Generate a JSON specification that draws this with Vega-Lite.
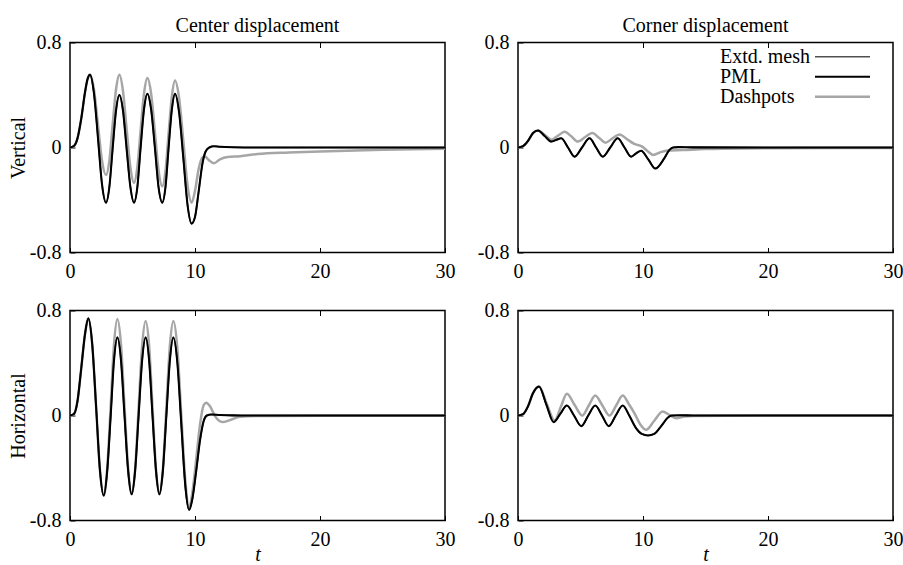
{
  "$schema": "https://vega.github.io/schema/vega-lite/v6.json",
  "autosize": {"type": "none"},
  "padding": {"left": 70, "top": 42.5, "right": 833, "bottom": 522.5},
  "background": "white",
  "bounds": "flush",
  "columns": 2,
  "spacing": {"row": 58, "column": 73},
  "config": {
    "font": "Liberation Serif",
    "view": {"stroke": "black", "strokeWidth": 1.5},
    "axis": {"grid": false, "domain": false, "tickSize": -5, "tickColor": "black", "tickWidth": 1, "labelFlush": false, "labelPadding": 14, "labelFont": "Liberation Serif", "labelFontSize": 20, "labelColor": "black", "titleFont": "Liberation Serif", "titleFontSize": 20, "titleFontWeight": "normal", "titleColor": "black"},
    "title": {"font": "Liberation Serif", "fontSize": 20, "fontWeight": "normal", "color": "black", "offset": -3}
  },
  "resolve": {"scale": {"color": "independent", "strokeWidth": "independent"}},
  "data": {"values": [
    {"p":"cv","s":"Dashpots","t":0,"v":0},{"p":"cv","s":"Dashpots","t":0.3,"v":0.01},{"p":"cv","s":"Dashpots","t":0.6,"v":0.07},{"p":"cv","s":"Dashpots","t":0.9,"v":0.22},{"p":"cv","s":"Dashpots","t":1.2,"v":0.42},{"p":"cv","s":"Dashpots","t":1.4,"v":0.52},{"p":"cv","s":"Dashpots","t":1.6,"v":0.555},{"p":"cv","s":"Dashpots","t":1.92,"v":0.44},{"p":"cv","s":"Dashpots","t":2.24,"v":0.17},{"p":"cv","s":"Dashpots","t":2.56,"v":-0.1},{"p":"cv","s":"Dashpots","t":2.88,"v":-0.21},{"p":"cv","s":"Dashpots","t":3.15,"v":-0.1},{"p":"cv","s":"Dashpots","t":3.41,"v":0.17},{"p":"cv","s":"Dashpots","t":3.68,"v":0.44},{"p":"cv","s":"Dashpots","t":3.95,"v":0.555},{"p":"cv","s":"Dashpots","t":4.24,"v":0.43},{"p":"cv","s":"Dashpots","t":4.53,"v":0.14},{"p":"cv","s":"Dashpots","t":4.83,"v":-0.15},{"p":"cv","s":"Dashpots","t":5.12,"v":-0.27},{"p":"cv","s":"Dashpots","t":5.39,"v":-0.15},{"p":"cv","s":"Dashpots","t":5.65,"v":0.13},{"p":"cv","s":"Dashpots","t":5.92,"v":0.41},{"p":"cv","s":"Dashpots","t":6.19,"v":0.53},{"p":"cv","s":"Dashpots","t":6.49,"v":0.41},{"p":"cv","s":"Dashpots","t":6.79,"v":0.12},{"p":"cv","s":"Dashpots","t":7.08,"v":-0.17},{"p":"cv","s":"Dashpots","t":7.38,"v":-0.295},{"p":"cv","s":"Dashpots","t":7.64,"v":-0.18},{"p":"cv","s":"Dashpots","t":7.89,"v":0.11},{"p":"cv","s":"Dashpots","t":8.15,"v":0.39},{"p":"cv","s":"Dashpots","t":8.4,"v":0.51},{"p":"cv","s":"Dashpots","t":8.73,"v":0.375},{"p":"cv","s":"Dashpots","t":9.07,"v":0.045},{"p":"cv","s":"Dashpots","t":9.4,"v":-0.285},{"p":"cv","s":"Dashpots","t":9.73,"v":-0.42},{"p":"cv","s":"Dashpots","t":10.0,"v":-0.33},{"p":"cv","s":"Dashpots","t":10.3,"v":-0.16},{"p":"cv","s":"Dashpots","t":10.6,"v":-0.075},{"p":"cv","s":"Dashpots","t":10.8,"v":-0.068},{"p":"cv","s":"Dashpots","t":11.1,"v":-0.095},{"p":"cv","s":"Dashpots","t":11.5,"v":-0.12},{"p":"cv","s":"Dashpots","t":12.0,"v":-0.09},{"p":"cv","s":"Dashpots","t":12.6,"v":-0.072},{"p":"cv","s":"Dashpots","t":13.6,"v":-0.066},{"p":"cv","s":"Dashpots","t":15,"v":-0.05},{"p":"cv","s":"Dashpots","t":17.5,"v":-0.038},{"p":"cv","s":"Dashpots","t":20,"v":-0.03},{"p":"cv","s":"Dashpots","t":25,"v":-0.018},{"p":"cv","s":"Dashpots","t":30,"v":-0.01},
    {"p":"cv","s":"Extd. mesh","t":0,"v":0},{"p":"cv","s":"Extd. mesh","t":0.3,"v":0.01},{"p":"cv","s":"Extd. mesh","t":0.6,"v":0.07},{"p":"cv","s":"Extd. mesh","t":0.9,"v":0.22},{"p":"cv","s":"Extd. mesh","t":1.2,"v":0.42},{"p":"cv","s":"Extd. mesh","t":1.4,"v":0.52},{"p":"cv","s":"Extd. mesh","t":1.6,"v":0.555},{"p":"cv","s":"Extd. mesh","t":1.92,"v":0.41},{"p":"cv","s":"Extd. mesh","t":2.24,"v":0.07},{"p":"cv","s":"Extd. mesh","t":2.56,"v":-0.28},{"p":"cv","s":"Extd. mesh","t":2.88,"v":-0.42},{"p":"cv","s":"Extd. mesh","t":3.15,"v":-0.3},{"p":"cv","s":"Extd. mesh","t":3.41,"v":-0.01},{"p":"cv","s":"Extd. mesh","t":3.68,"v":0.28},{"p":"cv","s":"Extd. mesh","t":3.95,"v":0.4},{"p":"cv","s":"Extd. mesh","t":4.24,"v":0.28},{"p":"cv","s":"Extd. mesh","t":4.53,"v":-0.01},{"p":"cv","s":"Extd. mesh","t":4.83,"v":-0.3},{"p":"cv","s":"Extd. mesh","t":5.12,"v":-0.42},{"p":"cv","s":"Extd. mesh","t":5.39,"v":-0.3},{"p":"cv","s":"Extd. mesh","t":5.65,"v":0},{"p":"cv","s":"Extd. mesh","t":5.92,"v":0.29},{"p":"cv","s":"Extd. mesh","t":6.19,"v":0.41},{"p":"cv","s":"Extd. mesh","t":6.49,"v":0.29},{"p":"cv","s":"Extd. mesh","t":6.79,"v":0},{"p":"cv","s":"Extd. mesh","t":7.08,"v":-0.3},{"p":"cv","s":"Extd. mesh","t":7.38,"v":-0.42},{"p":"cv","s":"Extd. mesh","t":7.64,"v":-0.3},{"p":"cv","s":"Extd. mesh","t":7.89,"v":0},{"p":"cv","s":"Extd. mesh","t":8.15,"v":0.29},{"p":"cv","s":"Extd. mesh","t":8.4,"v":0.41},{"p":"cv","s":"Extd. mesh","t":8.73,"v":0.265},{"p":"cv","s":"Extd. mesh","t":9.07,"v":-0.085},{"p":"cv","s":"Extd. mesh","t":9.4,"v":-0.435},{"p":"cv","s":"Extd. mesh","t":9.73,"v":-0.58},{"p":"cv","s":"Extd. mesh","t":10.0,"v":-0.53},{"p":"cv","s":"Extd. mesh","t":10.3,"v":-0.33},{"p":"cv","s":"Extd. mesh","t":10.6,"v":-0.12},{"p":"cv","s":"Extd. mesh","t":10.85,"v":-0.03},{"p":"cv","s":"Extd. mesh","t":11.15,"v":0},{"p":"cv","s":"Extd. mesh","t":11.5,"v":0.01},{"p":"cv","s":"Extd. mesh","t":12.0,"v":0.006},{"p":"cv","s":"Extd. mesh","t":13.0,"v":0.002},{"p":"cv","s":"Extd. mesh","t":15,"v":0},{"p":"cv","s":"Extd. mesh","t":20,"v":0},{"p":"cv","s":"Extd. mesh","t":30,"v":0},
    {"p":"cv","s":"PML","t":0,"v":0},{"p":"cv","s":"PML","t":0.3,"v":0.01},{"p":"cv","s":"PML","t":0.6,"v":0.07},{"p":"cv","s":"PML","t":0.9,"v":0.22},{"p":"cv","s":"PML","t":1.2,"v":0.42},{"p":"cv","s":"PML","t":1.4,"v":0.52},{"p":"cv","s":"PML","t":1.6,"v":0.555},{"p":"cv","s":"PML","t":1.92,"v":0.41},{"p":"cv","s":"PML","t":2.24,"v":0.07},{"p":"cv","s":"PML","t":2.56,"v":-0.28},{"p":"cv","s":"PML","t":2.88,"v":-0.42},{"p":"cv","s":"PML","t":3.15,"v":-0.3},{"p":"cv","s":"PML","t":3.41,"v":-0.01},{"p":"cv","s":"PML","t":3.68,"v":0.28},{"p":"cv","s":"PML","t":3.95,"v":0.4},{"p":"cv","s":"PML","t":4.24,"v":0.28},{"p":"cv","s":"PML","t":4.53,"v":-0.01},{"p":"cv","s":"PML","t":4.83,"v":-0.3},{"p":"cv","s":"PML","t":5.12,"v":-0.42},{"p":"cv","s":"PML","t":5.39,"v":-0.3},{"p":"cv","s":"PML","t":5.65,"v":0},{"p":"cv","s":"PML","t":5.92,"v":0.29},{"p":"cv","s":"PML","t":6.19,"v":0.41},{"p":"cv","s":"PML","t":6.49,"v":0.29},{"p":"cv","s":"PML","t":6.79,"v":0},{"p":"cv","s":"PML","t":7.08,"v":-0.3},{"p":"cv","s":"PML","t":7.38,"v":-0.42},{"p":"cv","s":"PML","t":7.64,"v":-0.3},{"p":"cv","s":"PML","t":7.89,"v":0},{"p":"cv","s":"PML","t":8.15,"v":0.29},{"p":"cv","s":"PML","t":8.4,"v":0.41},{"p":"cv","s":"PML","t":8.73,"v":0.265},{"p":"cv","s":"PML","t":9.07,"v":-0.085},{"p":"cv","s":"PML","t":9.4,"v":-0.435},{"p":"cv","s":"PML","t":9.73,"v":-0.58},{"p":"cv","s":"PML","t":10.0,"v":-0.53},{"p":"cv","s":"PML","t":10.3,"v":-0.33},{"p":"cv","s":"PML","t":10.6,"v":-0.12},{"p":"cv","s":"PML","t":10.85,"v":-0.03},{"p":"cv","s":"PML","t":11.15,"v":0},{"p":"cv","s":"PML","t":11.5,"v":0.01},{"p":"cv","s":"PML","t":12.0,"v":0.006},{"p":"cv","s":"PML","t":13.0,"v":0.002},{"p":"cv","s":"PML","t":15,"v":0},{"p":"cv","s":"PML","t":20,"v":0},{"p":"cv","s":"PML","t":30,"v":0},

    {"p":"rv","s":"Dashpots","t":0,"v":0},{"p":"rv","s":"Dashpots","t":0.4,"v":0.01},{"p":"rv","s":"Dashpots","t":0.8,"v":0.05},{"p":"rv","s":"Dashpots","t":1.2,"v":0.11},{"p":"rv","s":"Dashpots","t":1.6,"v":0.13},{"p":"rv","s":"Dashpots","t":2.15,"v":0.095},{"p":"rv","s":"Dashpots","t":2.7,"v":0.06},{"p":"rv","s":"Dashpots","t":3.2,"v":0.09},{"p":"rv","s":"Dashpots","t":3.73,"v":0.12},{"p":"rv","s":"Dashpots","t":4.26,"v":0.085},{"p":"rv","s":"Dashpots","t":4.79,"v":0.045},{"p":"rv","s":"Dashpots","t":5.37,"v":0.08},{"p":"rv","s":"Dashpots","t":5.94,"v":0.11},{"p":"rv","s":"Dashpots","t":6.47,"v":0.075},{"p":"rv","s":"Dashpots","t":7.0,"v":0.037},{"p":"rv","s":"Dashpots","t":7.56,"v":0.07},{"p":"rv","s":"Dashpots","t":8.12,"v":0.1},{"p":"rv","s":"Dashpots","t":8.7,"v":0.065},{"p":"rv","s":"Dashpots","t":9.3,"v":0.027},{"p":"rv","s":"Dashpots","t":9.9,"v":0.008},{"p":"rv","s":"Dashpots","t":10.4,"v":-0.03},{"p":"rv","s":"Dashpots","t":10.83,"v":-0.057},{"p":"rv","s":"Dashpots","t":11.3,"v":-0.04},{"p":"rv","s":"Dashpots","t":11.84,"v":-0.025},{"p":"rv","s":"Dashpots","t":13.2,"v":-0.02},{"p":"rv","s":"Dashpots","t":15,"v":-0.012},{"p":"rv","s":"Dashpots","t":20,"v":-0.006},{"p":"rv","s":"Dashpots","t":30,"v":-0.003},
    {"p":"rv","s":"Extd. mesh","t":0,"v":0},{"p":"rv","s":"Extd. mesh","t":0.4,"v":0.01},{"p":"rv","s":"Extd. mesh","t":0.8,"v":0.05},{"p":"rv","s":"Extd. mesh","t":1.2,"v":0.11},{"p":"rv","s":"Extd. mesh","t":1.6,"v":0.13},{"p":"rv","s":"Extd. mesh","t":2.13,"v":0.088},{"p":"rv","s":"Extd. mesh","t":2.66,"v":0.045},{"p":"rv","s":"Extd. mesh","t":3.06,"v":0.058},{"p":"rv","s":"Extd. mesh","t":3.46,"v":0.07},{"p":"rv","s":"Extd. mesh","t":4.0,"v":0},{"p":"rv","s":"Extd. mesh","t":4.53,"v":-0.07},{"p":"rv","s":"Extd. mesh","t":5.12,"v":0},{"p":"rv","s":"Extd. mesh","t":5.72,"v":0.07},{"p":"rv","s":"Extd. mesh","t":6.25,"v":0},{"p":"rv","s":"Extd. mesh","t":6.78,"v":-0.07},{"p":"rv","s":"Extd. mesh","t":7.38,"v":0},{"p":"rv","s":"Extd. mesh","t":7.98,"v":0.07},{"p":"rv","s":"Extd. mesh","t":8.52,"v":0},{"p":"rv","s":"Extd. mesh","t":9.05,"v":-0.07},{"p":"rv","s":"Extd. mesh","t":9.45,"v":-0.045},{"p":"rv","s":"Extd. mesh","t":9.85,"v":-0.025},{"p":"rv","s":"Extd. mesh","t":10.42,"v":-0.09},{"p":"rv","s":"Extd. mesh","t":10.99,"v":-0.16},{"p":"rv","s":"Extd. mesh","t":11.7,"v":-0.083},{"p":"rv","s":"Extd. mesh","t":12.1,"v":-0.02},{"p":"rv","s":"Extd. mesh","t":12.4,"v":0},{"p":"rv","s":"Extd. mesh","t":12.8,"v":0.003},{"p":"rv","s":"Extd. mesh","t":14,"v":0.001},{"p":"rv","s":"Extd. mesh","t":20,"v":0},{"p":"rv","s":"Extd. mesh","t":30,"v":0},
    {"p":"rv","s":"PML","t":0,"v":0},{"p":"rv","s":"PML","t":0.4,"v":0.01},{"p":"rv","s":"PML","t":0.8,"v":0.05},{"p":"rv","s":"PML","t":1.2,"v":0.11},{"p":"rv","s":"PML","t":1.6,"v":0.13},{"p":"rv","s":"PML","t":2.13,"v":0.088},{"p":"rv","s":"PML","t":2.66,"v":0.045},{"p":"rv","s":"PML","t":3.06,"v":0.058},{"p":"rv","s":"PML","t":3.46,"v":0.07},{"p":"rv","s":"PML","t":4.0,"v":0},{"p":"rv","s":"PML","t":4.53,"v":-0.07},{"p":"rv","s":"PML","t":5.12,"v":0},{"p":"rv","s":"PML","t":5.72,"v":0.07},{"p":"rv","s":"PML","t":6.25,"v":0},{"p":"rv","s":"PML","t":6.78,"v":-0.07},{"p":"rv","s":"PML","t":7.38,"v":0},{"p":"rv","s":"PML","t":7.98,"v":0.07},{"p":"rv","s":"PML","t":8.52,"v":0},{"p":"rv","s":"PML","t":9.05,"v":-0.07},{"p":"rv","s":"PML","t":9.45,"v":-0.045},{"p":"rv","s":"PML","t":9.85,"v":-0.025},{"p":"rv","s":"PML","t":10.42,"v":-0.09},{"p":"rv","s":"PML","t":10.99,"v":-0.16},{"p":"rv","s":"PML","t":11.7,"v":-0.083},{"p":"rv","s":"PML","t":12.1,"v":-0.02},{"p":"rv","s":"PML","t":12.4,"v":0},{"p":"rv","s":"PML","t":12.8,"v":0.003},{"p":"rv","s":"PML","t":14,"v":0.001},{"p":"rv","s":"PML","t":20,"v":0},{"p":"rv","s":"PML","t":30,"v":0},

    {"p":"ch","s":"Dashpots","t":0,"v":0},{"p":"ch","s":"Dashpots","t":0.3,"v":0.01},{"p":"ch","s":"Dashpots","t":0.6,"v":0.11},{"p":"ch","s":"Dashpots","t":0.9,"v":0.36},{"p":"ch","s":"Dashpots","t":1.2,"v":0.62},{"p":"ch","s":"Dashpots","t":1.47,"v":0.74},{"p":"ch","s":"Dashpots","t":1.78,"v":0.54},{"p":"ch","s":"Dashpots","t":2.09,"v":0.065},{"p":"ch","s":"Dashpots","t":2.39,"v":-0.41},{"p":"ch","s":"Dashpots","t":2.7,"v":-0.61},{"p":"ch","s":"Dashpots","t":2.97,"v":-0.41},{"p":"ch","s":"Dashpots","t":3.25,"v":0.06},{"p":"ch","s":"Dashpots","t":3.52,"v":0.54},{"p":"ch","s":"Dashpots","t":3.79,"v":0.735},{"p":"ch","s":"Dashpots","t":4.08,"v":0.54},{"p":"ch","s":"Dashpots","t":4.36,"v":0.07},{"p":"ch","s":"Dashpots","t":4.65,"v":-0.4},{"p":"ch","s":"Dashpots","t":4.93,"v":-0.6},{"p":"ch","s":"Dashpots","t":5.21,"v":-0.41},{"p":"ch","s":"Dashpots","t":5.49,"v":0.06},{"p":"ch","s":"Dashpots","t":5.77,"v":0.53},{"p":"ch","s":"Dashpots","t":6.05,"v":0.72},{"p":"ch","s":"Dashpots","t":6.33,"v":0.53},{"p":"ch","s":"Dashpots","t":6.6,"v":0.06},{"p":"ch","s":"Dashpots","t":6.88,"v":-0.41},{"p":"ch","s":"Dashpots","t":7.15,"v":-0.6},{"p":"ch","s":"Dashpots","t":7.43,"v":-0.41},{"p":"ch","s":"Dashpots","t":7.71,"v":0.06},{"p":"ch","s":"Dashpots","t":7.99,"v":0.53},{"p":"ch","s":"Dashpots","t":8.27,"v":0.72},{"p":"ch","s":"Dashpots","t":8.59,"v":0.51},{"p":"ch","s":"Dashpots","t":8.9,"v":0.01},{"p":"ch","s":"Dashpots","t":9.22,"v":-0.49},{"p":"ch","s":"Dashpots","t":9.53,"v":-0.7},{"p":"ch","s":"Dashpots","t":9.8,"v":-0.58},{"p":"ch","s":"Dashpots","t":10.1,"v":-0.33},{"p":"ch","s":"Dashpots","t":10.4,"v":-0.07},{"p":"ch","s":"Dashpots","t":10.7,"v":0.08},{"p":"ch","s":"Dashpots","t":10.9,"v":0.097},{"p":"ch","s":"Dashpots","t":11.2,"v":0.07},{"p":"ch","s":"Dashpots","t":11.6,"v":-0.005},{"p":"ch","s":"Dashpots","t":12.2,"v":-0.05},{"p":"ch","s":"Dashpots","t":12.8,"v":-0.035},{"p":"ch","s":"Dashpots","t":13.6,"v":-0.01},{"p":"ch","s":"Dashpots","t":15,"v":-0.004},{"p":"ch","s":"Dashpots","t":20,"v":-0.002},{"p":"ch","s":"Dashpots","t":30,"v":-0.002},
    {"p":"ch","s":"Extd. mesh","t":0,"v":0},{"p":"ch","s":"Extd. mesh","t":0.3,"v":0.01},{"p":"ch","s":"Extd. mesh","t":0.6,"v":0.11},{"p":"ch","s":"Extd. mesh","t":0.9,"v":0.36},{"p":"ch","s":"Extd. mesh","t":1.2,"v":0.62},{"p":"ch","s":"Extd. mesh","t":1.47,"v":0.74},{"p":"ch","s":"Extd. mesh","t":1.78,"v":0.54},{"p":"ch","s":"Extd. mesh","t":2.09,"v":0.065},{"p":"ch","s":"Extd. mesh","t":2.39,"v":-0.41},{"p":"ch","s":"Extd. mesh","t":2.7,"v":-0.61},{"p":"ch","s":"Extd. mesh","t":2.97,"v":-0.43},{"p":"ch","s":"Extd. mesh","t":3.25,"v":-0.01},{"p":"ch","s":"Extd. mesh","t":3.52,"v":0.42},{"p":"ch","s":"Extd. mesh","t":3.79,"v":0.595},{"p":"ch","s":"Extd. mesh","t":4.08,"v":0.42},{"p":"ch","s":"Extd. mesh","t":4.36,"v":0},{"p":"ch","s":"Extd. mesh","t":4.65,"v":-0.42},{"p":"ch","s":"Extd. mesh","t":4.93,"v":-0.6},{"p":"ch","s":"Extd. mesh","t":5.21,"v":-0.42},{"p":"ch","s":"Extd. mesh","t":5.49,"v":0},{"p":"ch","s":"Extd. mesh","t":5.77,"v":0.42},{"p":"ch","s":"Extd. mesh","t":6.05,"v":0.595},{"p":"ch","s":"Extd. mesh","t":6.33,"v":0.42},{"p":"ch","s":"Extd. mesh","t":6.6,"v":0},{"p":"ch","s":"Extd. mesh","t":6.88,"v":-0.42},{"p":"ch","s":"Extd. mesh","t":7.15,"v":-0.6},{"p":"ch","s":"Extd. mesh","t":7.43,"v":-0.42},{"p":"ch","s":"Extd. mesh","t":7.71,"v":0},{"p":"ch","s":"Extd. mesh","t":7.99,"v":0.42},{"p":"ch","s":"Extd. mesh","t":8.27,"v":0.595},{"p":"ch","s":"Extd. mesh","t":8.59,"v":0.4},{"p":"ch","s":"Extd. mesh","t":8.9,"v":-0.06},{"p":"ch","s":"Extd. mesh","t":9.22,"v":-0.53},{"p":"ch","s":"Extd. mesh","t":9.53,"v":-0.72},{"p":"ch","s":"Extd. mesh","t":9.8,"v":-0.63},{"p":"ch","s":"Extd. mesh","t":10.1,"v":-0.42},{"p":"ch","s":"Extd. mesh","t":10.4,"v":-0.19},{"p":"ch","s":"Extd. mesh","t":10.7,"v":-0.04},{"p":"ch","s":"Extd. mesh","t":10.95,"v":0},{"p":"ch","s":"Extd. mesh","t":11.3,"v":0.008},{"p":"ch","s":"Extd. mesh","t":12,"v":0.004},{"p":"ch","s":"Extd. mesh","t":13,"v":0.001},{"p":"ch","s":"Extd. mesh","t":15,"v":0},{"p":"ch","s":"Extd. mesh","t":30,"v":0},
    {"p":"ch","s":"PML","t":0,"v":0},{"p":"ch","s":"PML","t":0.3,"v":0.01},{"p":"ch","s":"PML","t":0.6,"v":0.11},{"p":"ch","s":"PML","t":0.9,"v":0.36},{"p":"ch","s":"PML","t":1.2,"v":0.62},{"p":"ch","s":"PML","t":1.47,"v":0.74},{"p":"ch","s":"PML","t":1.78,"v":0.54},{"p":"ch","s":"PML","t":2.09,"v":0.065},{"p":"ch","s":"PML","t":2.39,"v":-0.41},{"p":"ch","s":"PML","t":2.7,"v":-0.61},{"p":"ch","s":"PML","t":2.97,"v":-0.43},{"p":"ch","s":"PML","t":3.25,"v":-0.01},{"p":"ch","s":"PML","t":3.52,"v":0.42},{"p":"ch","s":"PML","t":3.79,"v":0.595},{"p":"ch","s":"PML","t":4.08,"v":0.42},{"p":"ch","s":"PML","t":4.36,"v":0},{"p":"ch","s":"PML","t":4.65,"v":-0.42},{"p":"ch","s":"PML","t":4.93,"v":-0.6},{"p":"ch","s":"PML","t":5.21,"v":-0.42},{"p":"ch","s":"PML","t":5.49,"v":0},{"p":"ch","s":"PML","t":5.77,"v":0.42},{"p":"ch","s":"PML","t":6.05,"v":0.595},{"p":"ch","s":"PML","t":6.33,"v":0.42},{"p":"ch","s":"PML","t":6.6,"v":0},{"p":"ch","s":"PML","t":6.88,"v":-0.42},{"p":"ch","s":"PML","t":7.15,"v":-0.6},{"p":"ch","s":"PML","t":7.43,"v":-0.42},{"p":"ch","s":"PML","t":7.71,"v":0},{"p":"ch","s":"PML","t":7.99,"v":0.42},{"p":"ch","s":"PML","t":8.27,"v":0.595},{"p":"ch","s":"PML","t":8.59,"v":0.4},{"p":"ch","s":"PML","t":8.9,"v":-0.06},{"p":"ch","s":"PML","t":9.22,"v":-0.53},{"p":"ch","s":"PML","t":9.53,"v":-0.72},{"p":"ch","s":"PML","t":9.8,"v":-0.63},{"p":"ch","s":"PML","t":10.1,"v":-0.42},{"p":"ch","s":"PML","t":10.4,"v":-0.19},{"p":"ch","s":"PML","t":10.7,"v":-0.04},{"p":"ch","s":"PML","t":10.95,"v":0},{"p":"ch","s":"PML","t":11.3,"v":0.008},{"p":"ch","s":"PML","t":12,"v":0.004},{"p":"ch","s":"PML","t":13,"v":0.001},{"p":"ch","s":"PML","t":15,"v":0},{"p":"ch","s":"PML","t":30,"v":0},

    {"p":"rh","s":"Dashpots","t":0,"v":0},{"p":"rh","s":"Dashpots","t":0.4,"v":0.01},{"p":"rh","s":"Dashpots","t":0.8,"v":0.07},{"p":"rh","s":"Dashpots","t":1.2,"v":0.17},{"p":"rh","s":"Dashpots","t":1.68,"v":0.221},{"p":"rh","s":"Dashpots","t":2.3,"v":0.09},{"p":"rh","s":"Dashpots","t":2.93,"v":-0.038},{"p":"rh","s":"Dashpots","t":3.42,"v":0.064},{"p":"rh","s":"Dashpots","t":3.91,"v":0.165},{"p":"rh","s":"Dashpots","t":4.52,"v":0.082},{"p":"rh","s":"Dashpots","t":5.14,"v":0},{"p":"rh","s":"Dashpots","t":5.66,"v":0.076},{"p":"rh","s":"Dashpots","t":6.18,"v":0.152},{"p":"rh","s":"Dashpots","t":6.75,"v":0.076},{"p":"rh","s":"Dashpots","t":7.32,"v":0},{"p":"rh","s":"Dashpots","t":7.85,"v":0.076},{"p":"rh","s":"Dashpots","t":8.38,"v":0.152},{"p":"rh","s":"Dashpots","t":8.85,"v":0.09},{"p":"rh","s":"Dashpots","t":9.3,"v":0.02},{"p":"rh","s":"Dashpots","t":9.8,"v":-0.07},{"p":"rh","s":"Dashpots","t":10.25,"v":-0.109},{"p":"rh","s":"Dashpots","t":10.9,"v":-0.04},{"p":"rh","s":"Dashpots","t":11.57,"v":0.03},{"p":"rh","s":"Dashpots","t":12.1,"v":0.005},{"p":"rh","s":"Dashpots","t":12.64,"v":-0.02},{"p":"rh","s":"Dashpots","t":13.3,"v":-0.008},{"p":"rh","s":"Dashpots","t":14,"v":-0.003},{"p":"rh","s":"Dashpots","t":20,"v":0},{"p":"rh","s":"Dashpots","t":30,"v":0},
    {"p":"rh","s":"Extd. mesh","t":0,"v":0},{"p":"rh","s":"Extd. mesh","t":0.4,"v":0.01},{"p":"rh","s":"Extd. mesh","t":0.8,"v":0.07},{"p":"rh","s":"Extd. mesh","t":1.2,"v":0.17},{"p":"rh","s":"Extd. mesh","t":1.68,"v":0.221},{"p":"rh","s":"Extd. mesh","t":2.26,"v":0.085},{"p":"rh","s":"Extd. mesh","t":2.85,"v":-0.051},{"p":"rh","s":"Extd. mesh","t":3.38,"v":0.012},{"p":"rh","s":"Extd. mesh","t":3.91,"v":0.076},{"p":"rh","s":"Extd. mesh","t":4.48,"v":0},{"p":"rh","s":"Extd. mesh","t":5.06,"v":-0.081},{"p":"rh","s":"Extd. mesh","t":5.62,"v":0},{"p":"rh","s":"Extd. mesh","t":6.18,"v":0.076},{"p":"rh","s":"Extd. mesh","t":6.72,"v":0},{"p":"rh","s":"Extd. mesh","t":7.26,"v":-0.081},{"p":"rh","s":"Extd. mesh","t":7.82,"v":0},{"p":"rh","s":"Extd. mesh","t":8.38,"v":0.076},{"p":"rh","s":"Extd. mesh","t":8.9,"v":0},{"p":"rh","s":"Extd. mesh","t":9.4,"v":-0.09},{"p":"rh","s":"Extd. mesh","t":9.9,"v":-0.14},{"p":"rh","s":"Extd. mesh","t":10.4,"v":-0.152},{"p":"rh","s":"Extd. mesh","t":10.9,"v":-0.14},{"p":"rh","s":"Extd. mesh","t":11.5,"v":-0.075},{"p":"rh","s":"Extd. mesh","t":12.0,"v":-0.015},{"p":"rh","s":"Extd. mesh","t":12.3,"v":0},{"p":"rh","s":"Extd. mesh","t":13,"v":0.002},{"p":"rh","s":"Extd. mesh","t":14,"v":0},{"p":"rh","s":"Extd. mesh","t":20,"v":0},{"p":"rh","s":"Extd. mesh","t":30,"v":0},
    {"p":"rh","s":"PML","t":0,"v":0},{"p":"rh","s":"PML","t":0.4,"v":0.01},{"p":"rh","s":"PML","t":0.8,"v":0.07},{"p":"rh","s":"PML","t":1.2,"v":0.17},{"p":"rh","s":"PML","t":1.68,"v":0.221},{"p":"rh","s":"PML","t":2.26,"v":0.085},{"p":"rh","s":"PML","t":2.85,"v":-0.051},{"p":"rh","s":"PML","t":3.38,"v":0.012},{"p":"rh","s":"PML","t":3.91,"v":0.076},{"p":"rh","s":"PML","t":4.48,"v":0},{"p":"rh","s":"PML","t":5.06,"v":-0.081},{"p":"rh","s":"PML","t":5.62,"v":0},{"p":"rh","s":"PML","t":6.18,"v":0.076},{"p":"rh","s":"PML","t":6.72,"v":0},{"p":"rh","s":"PML","t":7.26,"v":-0.081},{"p":"rh","s":"PML","t":7.82,"v":0},{"p":"rh","s":"PML","t":8.38,"v":0.076},{"p":"rh","s":"PML","t":8.9,"v":0},{"p":"rh","s":"PML","t":9.4,"v":-0.09},{"p":"rh","s":"PML","t":9.9,"v":-0.14},{"p":"rh","s":"PML","t":10.4,"v":-0.152},{"p":"rh","s":"PML","t":10.9,"v":-0.14},{"p":"rh","s":"PML","t":11.5,"v":-0.075},{"p":"rh","s":"PML","t":12.0,"v":-0.015},{"p":"rh","s":"PML","t":12.3,"v":0},{"p":"rh","s":"PML","t":13,"v":0.002},{"p":"rh","s":"PML","t":14,"v":0},{"p":"rh","s":"PML","t":20,"v":0},{"p":"rh","s":"PML","t":30,"v":0}
  ]},
  "concat": [
    {
      "width": 375, "height": 210,
      "title": {"text": "Center displacement"},
      "transform": [{"filter": "datum.p == 'cv'"}],
      "resolve": {"axis": {"x": "independent", "y": "independent"}},
      "layer": [
        {
          "mark": {"type": "line", "interpolate": "monotone"},
          "encoding": {
            "x": {"field": "t", "type": "quantitative", "scale": {"domain": [0, 30], "nice": false}, "axis": {"values": [0, 10, 20, 30], "title": null}},
            "y": {"field": "v", "type": "quantitative", "scale": {"domain": [-0.8, 0.8], "nice": false}, "axis": {"values": [-0.8, 0, 0.8], "title": "Vertical", "titlePadding": 1, "labelExpr": "datum.value > 0.1 ? '0.8' : datum.value < -0.1 ? '-0.8' : '0'"}},
            "color": {"field": "s", "type": "nominal", "scale": {"domain": ["Extd. mesh", "PML", "Dashpots"], "range": ["#505050", "#000000", "#a6a6a6"]}, "legend": null},
            "strokeWidth": {"field": "s", "type": "nominal", "scale": {"domain": ["Extd. mesh", "PML", "Dashpots"], "range": [1.6, 2.5, 1.0]}, "legend": null}
          }
        },
        {
          "mark": {"type": "point", "opacity": 0},
          "encoding": {
            "x": {"field": "t", "type": "quantitative", "scale": {"domain": [0, 30], "nice": false}, "axis": {"orient": "top", "values": [10, 20], "labels": false, "title": null, "minExtent": 0}},
            "y": {"field": "v", "type": "quantitative", "scale": {"domain": [-0.8, 0.8], "nice": false}, "axis": {"orient": "right", "values": [0], "labels": false, "title": null, "minExtent": 0}}
          }
        }
      ]
    },
    {
      "width": 375, "height": 210,
      "title": {"text": "Corner displacement"},
      "transform": [{"filter": "datum.p == 'rv'"}],
      "resolve": {"axis": {"x": "independent", "y": "independent"}},
      "layer": [
        {
          "mark": {"type": "line", "interpolate": "monotone"},
          "encoding": {
            "x": {"field": "t", "type": "quantitative", "scale": {"domain": [0, 30], "nice": false}, "axis": {"values": [0, 10, 20, 30], "title": null}},
            "y": {"field": "v", "type": "quantitative", "scale": {"domain": [-0.8, 0.8], "nice": false}, "axis": {"values": [-0.8, 0, 0.8], "title": null, "labelExpr": "datum.value > 0.1 ? '0.8' : datum.value < -0.1 ? '-0.8' : '0'"}},
            "color": {"field": "s", "type": "nominal", "scale": {"domain": ["Extd. mesh", "PML", "Dashpots"], "range": ["#505050", "#000000", "#a6a6a6"]},
              "legend": {"orient": "none", "legendX": 314.5, "legendY": 4.2, "title": null, "symbolType": "M-3.44,0L3.44,0", "symbolFillColor": "transparent", "symbolSize": 256, "labelOffset": -132.5, "padding": 0, "rowPadding": 0, "labelFont": "Liberation Serif", "labelFontSize": 20, "labelColor": "black", "labelLimit": 0}},
            "strokeWidth": {"field": "s", "type": "nominal", "scale": {"domain": ["Extd. mesh", "PML", "Dashpots"], "range": [1.6, 2.5, 1.0]},
              "legend": {"orient": "none", "legendX": 314.5, "legendY": 4.2, "title": null, "symbolType": "M-3.44,0L3.44,0", "symbolFillColor": "transparent", "symbolSize": 256, "labelOffset": -132.5, "padding": 0, "rowPadding": 0, "labelFont": "Liberation Serif", "labelFontSize": 20, "labelColor": "black", "labelLimit": 0}}
          }
        },
        {
          "mark": {"type": "point", "opacity": 0},
          "encoding": {
            "x": {"field": "t", "type": "quantitative", "scale": {"domain": [0, 30], "nice": false}, "axis": {"orient": "top", "values": [10, 20], "labels": false, "title": null, "minExtent": 0}},
            "y": {"field": "v", "type": "quantitative", "scale": {"domain": [-0.8, 0.8], "nice": false}, "axis": {"orient": "right", "values": [0], "labels": false, "title": null, "minExtent": 0}}
          }
        }
      ]
    },
    {
      "width": 375, "height": 210,
      "transform": [{"filter": "datum.p == 'ch'"}],
      "resolve": {"axis": {"x": "independent", "y": "independent"}},
      "layer": [
        {
          "mark": {"type": "line", "interpolate": "monotone"},
          "encoding": {
            "x": {"field": "t", "type": "quantitative", "scale": {"domain": [0, 30], "nice": false}, "axis": {"values": [0, 10, 20, 30], "title": "t", "titleFontStyle": "italic", "titlePadding": -5}},
            "y": {"field": "v", "type": "quantitative", "scale": {"domain": [-0.8, 0.8], "nice": false}, "axis": {"values": [-0.8, 0, 0.8], "title": "Horizontal", "titlePadding": 1, "labelExpr": "datum.value > 0.1 ? '0.8' : datum.value < -0.1 ? '-0.8' : '0'"}},
            "color": {"field": "s", "type": "nominal", "scale": {"domain": ["Extd. mesh", "PML", "Dashpots"], "range": ["#505050", "#000000", "#a6a6a6"]}, "legend": null},
            "strokeWidth": {"field": "s", "type": "nominal", "scale": {"domain": ["Extd. mesh", "PML", "Dashpots"], "range": [1.6, 2.5, 1.0]}, "legend": null}
          }
        },
        {
          "mark": {"type": "point", "opacity": 0},
          "encoding": {
            "x": {"field": "t", "type": "quantitative", "scale": {"domain": [0, 30], "nice": false}, "axis": {"orient": "top", "values": [10, 20], "labels": false, "title": null, "minExtent": 0}},
            "y": {"field": "v", "type": "quantitative", "scale": {"domain": [-0.8, 0.8], "nice": false}, "axis": {"orient": "right", "values": [0], "labels": false, "title": null, "minExtent": 0}}
          }
        }
      ]
    },
    {
      "width": 375, "height": 210,
      "transform": [{"filter": "datum.p == 'rh'"}],
      "resolve": {"axis": {"x": "independent", "y": "independent"}},
      "layer": [
        {
          "mark": {"type": "line", "interpolate": "monotone"},
          "encoding": {
            "x": {"field": "t", "type": "quantitative", "scale": {"domain": [0, 30], "nice": false}, "axis": {"values": [0, 10, 20, 30], "title": "t", "titleFontStyle": "italic", "titlePadding": -5}},
            "y": {"field": "v", "type": "quantitative", "scale": {"domain": [-0.8, 0.8], "nice": false}, "axis": {"values": [-0.8, 0, 0.8], "title": null, "labelExpr": "datum.value > 0.1 ? '0.8' : datum.value < -0.1 ? '-0.8' : '0'"}},
            "color": {"field": "s", "type": "nominal", "scale": {"domain": ["Extd. mesh", "PML", "Dashpots"], "range": ["#505050", "#000000", "#a6a6a6"]}, "legend": null},
            "strokeWidth": {"field": "s", "type": "nominal", "scale": {"domain": ["Extd. mesh", "PML", "Dashpots"], "range": [1.6, 2.5, 1.0]}, "legend": null}
          }
        },
        {
          "mark": {"type": "point", "opacity": 0},
          "encoding": {
            "x": {"field": "t", "type": "quantitative", "scale": {"domain": [0, 30], "nice": false}, "axis": {"orient": "top", "values": [10, 20], "labels": false, "title": null, "minExtent": 0}},
            "y": {"field": "v", "type": "quantitative", "scale": {"domain": [-0.8, 0.8], "nice": false}, "axis": {"orient": "right", "values": [0], "labels": false, "title": null, "minExtent": 0}}
          }
        }
      ]
    }
  ]
}
